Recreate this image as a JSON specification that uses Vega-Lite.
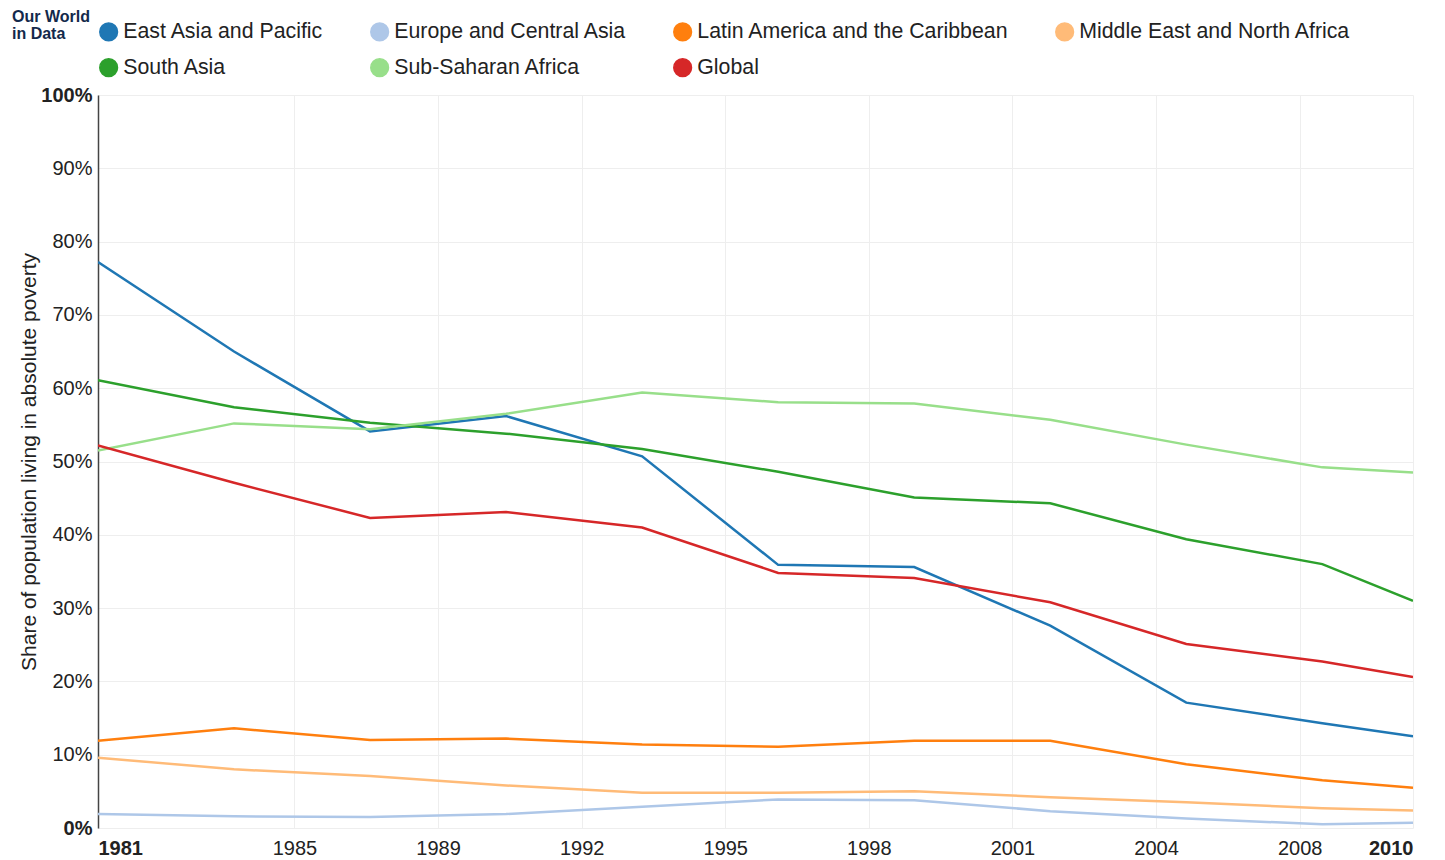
{
  "$schema": "https://vega.github.io/schema/vega-lite/v6.json",
  "width": 1315,
  "height": 733,
  "autosize": {"type": "none"},
  "padding": {"left": 98, "top": 95, "right": 32, "bottom": 32},
  "background": "white",
  "title": {
    "text": ["Our World", "in Data"],
    "anchor": "start",
    "frame": "group",
    "dx": -86,
    "offset": 0,
    "dy": 21,
    "fontSize": 16,
    "lineHeight": 17,
    "font": "Liberation Sans",
    "fontWeight": "bold",
    "color": "#13294b"
  },
  "data": {
    "values": [
      {"region": "East Asia and Pacific", "year": 1981, "value": 77.2},
      {"region": "East Asia and Pacific", "year": 1984, "value": 65.0},
      {"region": "East Asia and Pacific", "year": 1987, "value": 54.1},
      {"region": "East Asia and Pacific", "year": 1990, "value": 56.2},
      {"region": "East Asia and Pacific", "year": 1993, "value": 50.7},
      {"region": "East Asia and Pacific", "year": 1996, "value": 35.9},
      {"region": "East Asia and Pacific", "year": 1999, "value": 35.6},
      {"region": "East Asia and Pacific", "year": 2002, "value": 27.6},
      {"region": "East Asia and Pacific", "year": 2005, "value": 17.1},
      {"region": "East Asia and Pacific", "year": 2008, "value": 14.3},
      {"region": "East Asia and Pacific", "year": 2010, "value": 12.5},
      {"region": "Europe and Central Asia", "year": 1981, "value": 1.9},
      {"region": "Europe and Central Asia", "year": 1984, "value": 1.6},
      {"region": "Europe and Central Asia", "year": 1987, "value": 1.5},
      {"region": "Europe and Central Asia", "year": 1990, "value": 1.9},
      {"region": "Europe and Central Asia", "year": 1993, "value": 2.9},
      {"region": "Europe and Central Asia", "year": 1996, "value": 3.9},
      {"region": "Europe and Central Asia", "year": 1999, "value": 3.8},
      {"region": "Europe and Central Asia", "year": 2002, "value": 2.3},
      {"region": "Europe and Central Asia", "year": 2005, "value": 1.3},
      {"region": "Europe and Central Asia", "year": 2008, "value": 0.5},
      {"region": "Europe and Central Asia", "year": 2010, "value": 0.7},
      {"region": "Latin America and the Caribbean", "year": 1981, "value": 11.9},
      {"region": "Latin America and the Caribbean", "year": 1984, "value": 13.6},
      {"region": "Latin America and the Caribbean", "year": 1987, "value": 12.0},
      {"region": "Latin America and the Caribbean", "year": 1990, "value": 12.2},
      {"region": "Latin America and the Caribbean", "year": 1993, "value": 11.4},
      {"region": "Latin America and the Caribbean", "year": 1996, "value": 11.1},
      {"region": "Latin America and the Caribbean", "year": 1999, "value": 11.9},
      {"region": "Latin America and the Caribbean", "year": 2002, "value": 11.9},
      {"region": "Latin America and the Caribbean", "year": 2005, "value": 8.7},
      {"region": "Latin America and the Caribbean", "year": 2008, "value": 6.5},
      {"region": "Latin America and the Caribbean", "year": 2010, "value": 5.5},
      {"region": "Middle East and North Africa", "year": 1981, "value": 9.6},
      {"region": "Middle East and North Africa", "year": 1984, "value": 8.0},
      {"region": "Middle East and North Africa", "year": 1987, "value": 7.1},
      {"region": "Middle East and North Africa", "year": 1990, "value": 5.8},
      {"region": "Middle East and North Africa", "year": 1993, "value": 4.8},
      {"region": "Middle East and North Africa", "year": 1996, "value": 4.8},
      {"region": "Middle East and North Africa", "year": 1999, "value": 5.0},
      {"region": "Middle East and North Africa", "year": 2002, "value": 4.2},
      {"region": "Middle East and North Africa", "year": 2005, "value": 3.5},
      {"region": "Middle East and North Africa", "year": 2008, "value": 2.7},
      {"region": "Middle East and North Africa", "year": 2010, "value": 2.4},
      {"region": "South Asia", "year": 1981, "value": 61.1},
      {"region": "South Asia", "year": 1984, "value": 57.4},
      {"region": "South Asia", "year": 1987, "value": 55.3},
      {"region": "South Asia", "year": 1990, "value": 53.8},
      {"region": "South Asia", "year": 1993, "value": 51.7},
      {"region": "South Asia", "year": 1996, "value": 48.6},
      {"region": "South Asia", "year": 1999, "value": 45.1},
      {"region": "South Asia", "year": 2002, "value": 44.3},
      {"region": "South Asia", "year": 2005, "value": 39.4},
      {"region": "South Asia", "year": 2008, "value": 36.0},
      {"region": "South Asia", "year": 2010, "value": 31.0},
      {"region": "Sub-Saharan Africa", "year": 1981, "value": 51.5},
      {"region": "Sub-Saharan Africa", "year": 1984, "value": 55.2},
      {"region": "Sub-Saharan Africa", "year": 1987, "value": 54.4},
      {"region": "Sub-Saharan Africa", "year": 1990, "value": 56.5},
      {"region": "Sub-Saharan Africa", "year": 1993, "value": 59.4},
      {"region": "Sub-Saharan Africa", "year": 1996, "value": 58.1},
      {"region": "Sub-Saharan Africa", "year": 1999, "value": 57.9},
      {"region": "Sub-Saharan Africa", "year": 2002, "value": 55.7},
      {"region": "Sub-Saharan Africa", "year": 2005, "value": 52.3},
      {"region": "Sub-Saharan Africa", "year": 2008, "value": 49.2},
      {"region": "Sub-Saharan Africa", "year": 2010, "value": 48.5},
      {"region": "Global", "year": 1981, "value": 52.2},
      {"region": "Global", "year": 1984, "value": 47.1},
      {"region": "Global", "year": 1987, "value": 42.3},
      {"region": "Global", "year": 1990, "value": 43.1},
      {"region": "Global", "year": 1993, "value": 41.0},
      {"region": "Global", "year": 1996, "value": 34.8},
      {"region": "Global", "year": 1999, "value": 34.1},
      {"region": "Global", "year": 2002, "value": 30.8},
      {"region": "Global", "year": 2005, "value": 25.1},
      {"region": "Global", "year": 2008, "value": 22.7},
      {"region": "Global", "year": 2010, "value": 20.6}
    ]
  },
  "mark": {"type": "line", "strokeWidth": 2.5, "clip": true},
  "encoding": {
    "x": {
      "field": "year",
      "type": "quantitative",
      "scale": {"domain": [1981, 2010], "nice": false, "zero": false},
      "axis": {
        "title": null,
        "values": [1981, 1985.333, 1988.5, 1991.667, 1994.833, 1998, 2001.167, 2004.333, 2007.5, 2010],
        "labelExpr": "round(datum.value)",
        "labelFontWeight": {"condition": {"test": "datum.value == 1981 || datum.value == 2010", "value": "bold"}, "value": "normal"},
        "domain": false,
        "ticks": false,
        "labelPadding": 10,
        "labelFontSize": 20,
        "labelFont": "Liberation Sans",
        "labelColor": "#222",
        "grid": true,
        "gridColor": "#eeeeee",
        "gridWidth": 1,
        "labelOverlap": false
      }
    },
    "y": {
      "field": "value",
      "type": "quantitative",
      "scale": {"domain": [0, 100], "nice": false},
      "axis": {
        "title": "Share of population living in absolute poverty",
        "titleFont": "Liberation Sans",
        "titleFontSize": 21,
        "titleFontWeight": "normal",
        "titleColor": "#222",
        "titlePadding": 1,
        "values": [0, 10, 20, 30, 40, 50, 60, 70, 80, 90, 100],
        "labelExpr": "datum.value + '%'",
        "labelFontWeight": {"condition": {"test": "datum.value == 0 || datum.value == 100", "value": "bold"}, "value": "normal"},
        "labelFontSize": 20,
        "labelFont": "Liberation Sans",
        "labelColor": "#222",
        "labelPadding": 6,
        "ticks": false,
        "domain": true,
        "domainColor": "#444",
        "domainWidth": 1.5,
        "grid": true,
        "gridColor": "#eeeeee",
        "gridWidth": 1
      }
    },
    "color": {
      "field": "region",
      "type": "nominal",
      "sort": null,
      "scale": {
        "domain": ["East Asia and Pacific", "Europe and Central Asia", "Latin America and the Caribbean", "Middle East and North Africa", "South Asia", "Sub-Saharan Africa", "Global"],
        "range": ["#1f77b4", "#aec7e8", "#ff7f0e", "#ffbb78", "#2ca02c", "#98df8a", "#d62728"]
      },
      "legend": {
        "title": null,
        "orient": "none",
        "legendX": 0,
        "legendY": -74,
        "direction": "horizontal",
        "columns": 4,
        "padding": 0,
        "columnPadding": 43,
        "rowPadding": 11,
        "labelFont": "Liberation Sans",
        "labelFontSize": 21.3,
        "labelColor": "#222",
        "labelOffset": 4,
        "labelLimit": 500,
        "symbolType": "circle",
        "symbolSize": 314,
        "encode": {
          "symbols": {
            "update": {
              "fill": {"scale": "color", "field": "value"},
              "stroke": {"value": "transparent"},
              "shape": {"value": "circle"},
              "size": {"value": 314}
            }
          }
        }
      }
    }
  },
  "config": {
    "view": {"stroke": null},
    "font": "Liberation Sans"
  }
}
